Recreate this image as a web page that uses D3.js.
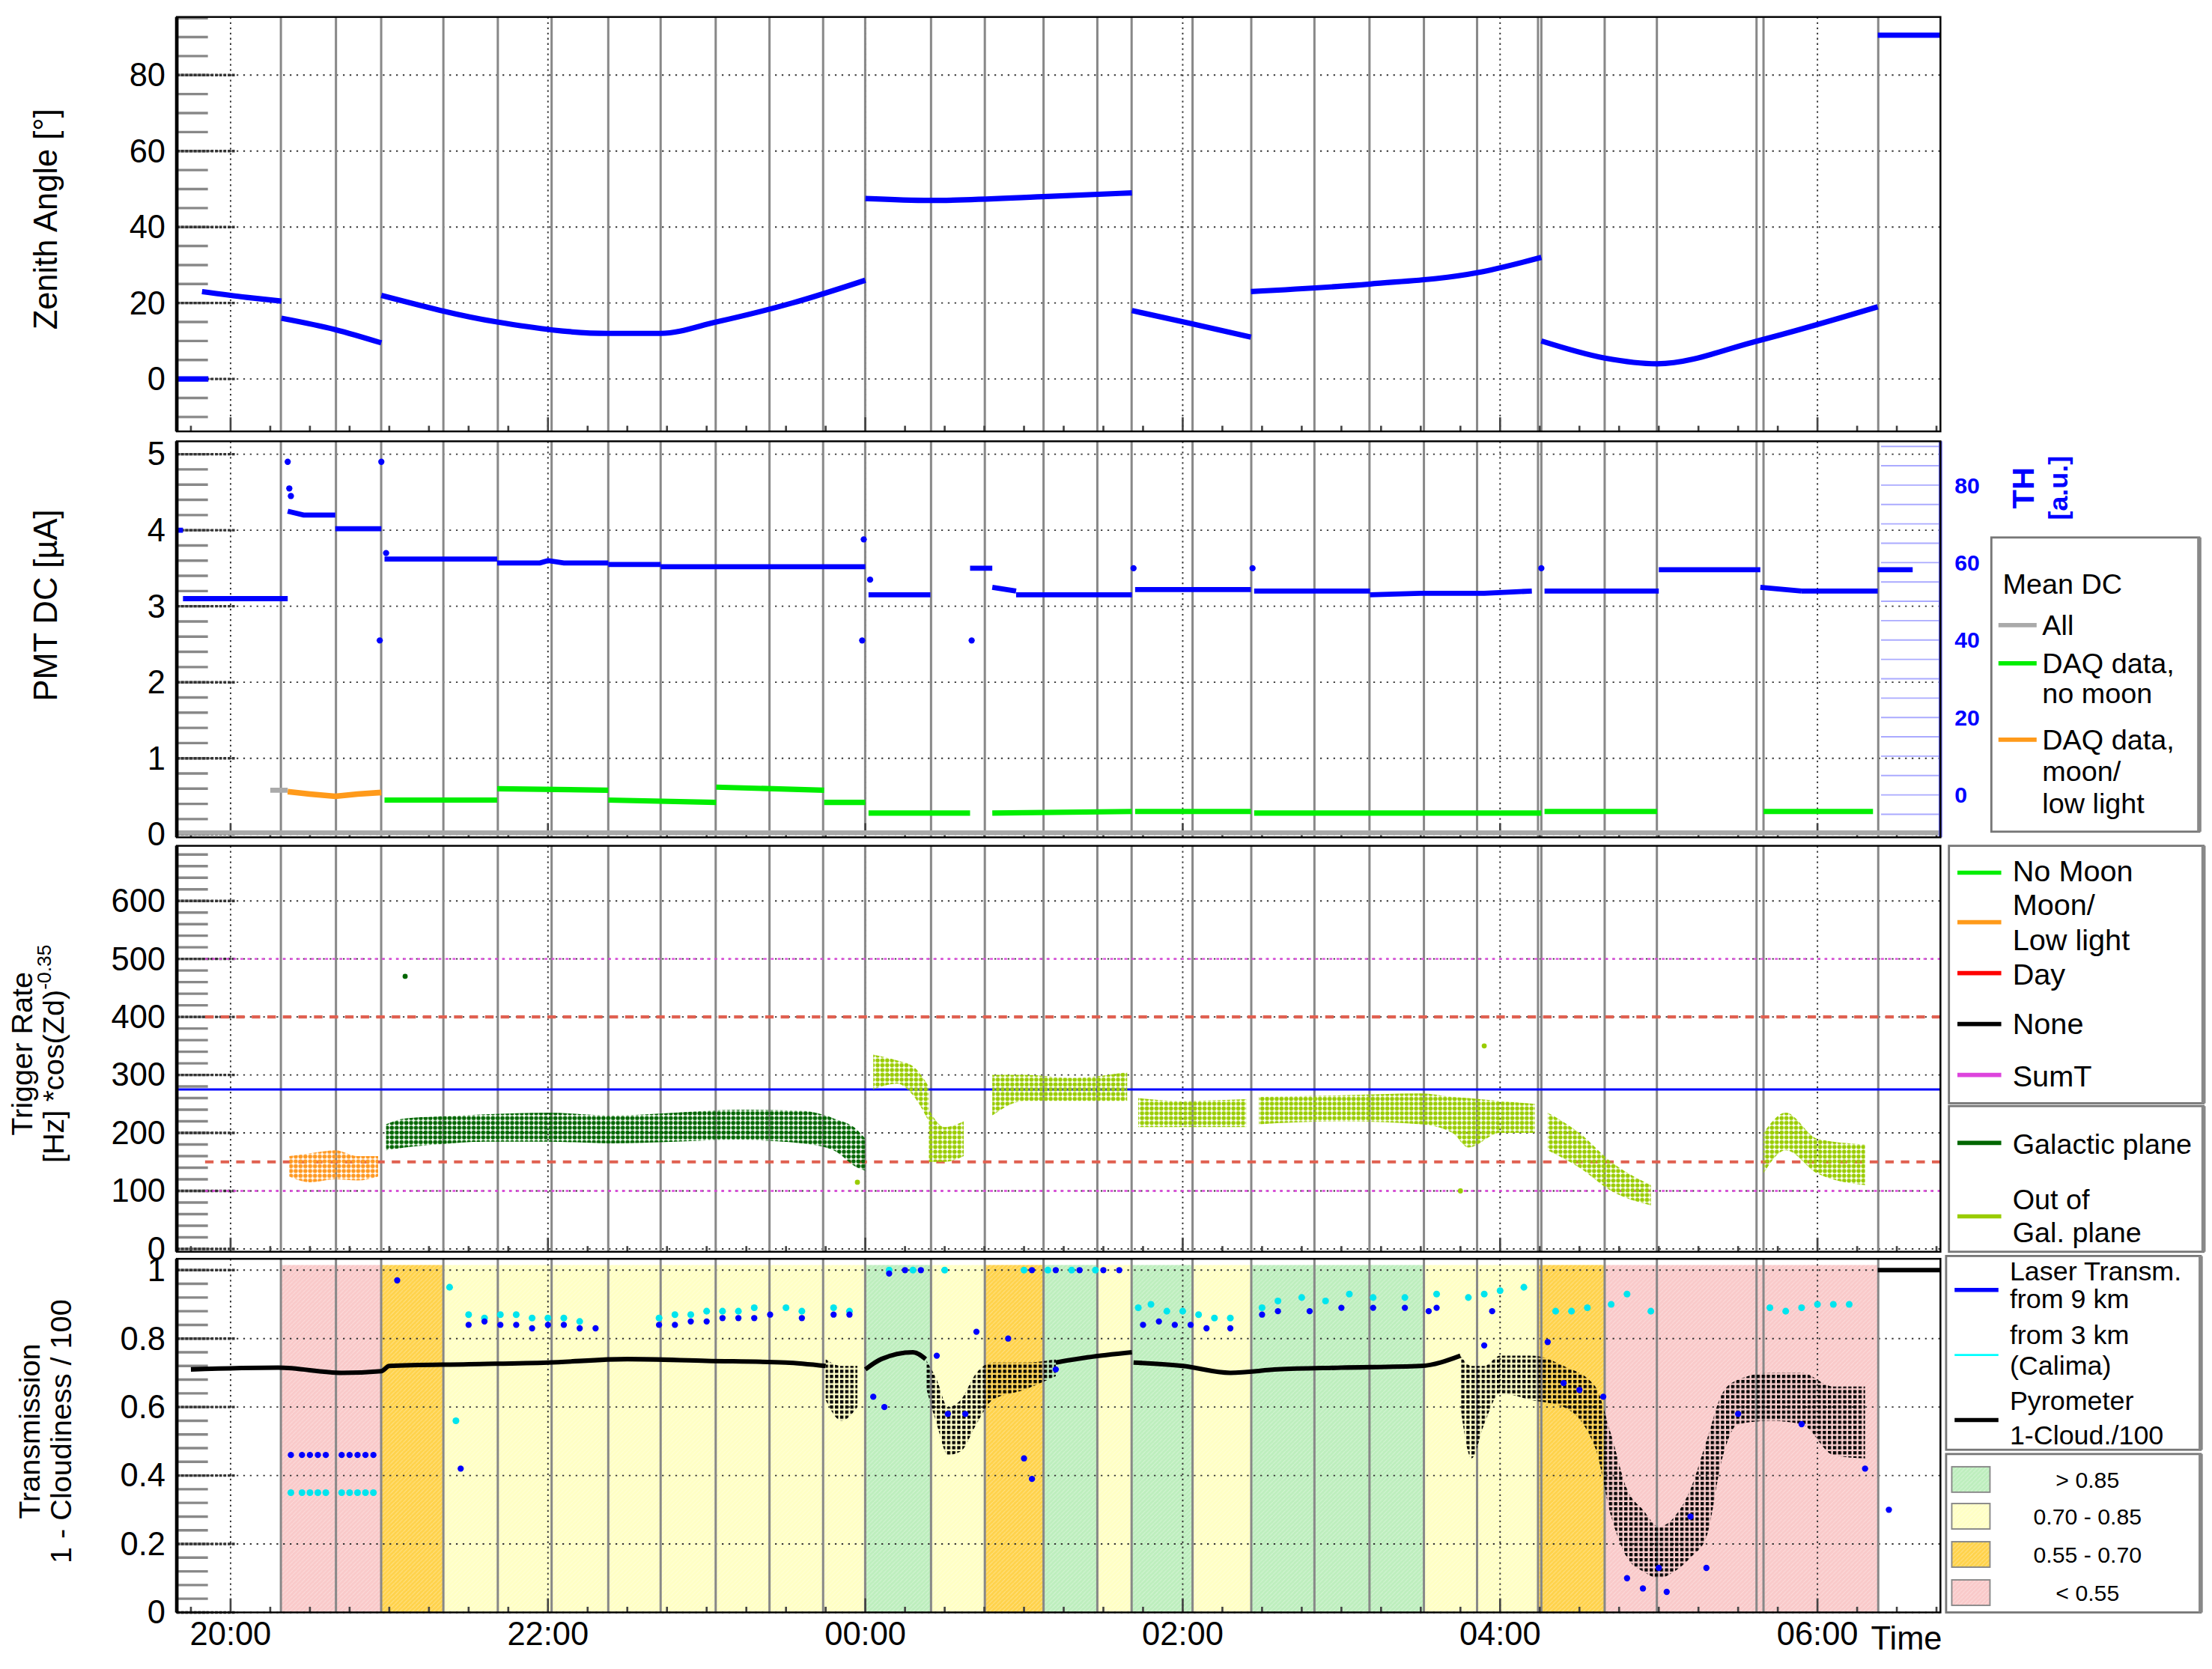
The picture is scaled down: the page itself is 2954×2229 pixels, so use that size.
<!DOCTYPE html>
<html><head><meta charset="utf-8">
<script src="https://cdn.jsdelivr.net/npm/d3@7"></script>
<style>body{margin:0;background:#fff}svg{display:block;font-family:"Liberation Sans",Arial,sans-serif}</style>
</head><body><svg id="c"></svg>
<script>
// ---------- DATA (time in hours after 20:00) ----------
const timeTicks = [0,2,4,6,8,10];
const timeLabels = ["20:00","22:00","00:00","02:00","04:00","06:00"];
const runLines = [0.317,0.664,0.949,1.341,1.684,2.023,2.38,2.71,3.057,3.396,3.734,3.999,4.414,4.753,5.123,5.462,5.678,6.062,6.432,6.83,7.177,7.52,7.855,8.239,8.26,8.659,8.988,9.616,9.66,10.383];
const zenithSegments = [
 [[-0.34,0],[-0.14,0]],
 [[-0.18,23],[0.1,21.5],[0.32,20.5]],
 [[0.32,16],[0.66,13],[0.95,9.5]],
 [[0.95,22],[1.68,15],[2.38,12],[2.71,12],[3.06,15],[3.54,20],[4.0,26]],
 [[4.0,47.5],[4.41,47],[5.12,48],[5.68,49]],
 [[5.68,18],[6.06,14.5],[6.43,11]],
 [[6.43,23],[7.18,25],[7.86,28],[8.26,32]],
 [[8.26,10],[8.66,5.5],[8.99,4],[9.62,10],[10.38,19]],
 [[10.38,90.5],[10.78,90.5]]
];
const pmtSegments = [
 [[-0.34,4.0],[-0.3,4.0]],[[-0.3,3.1],[0.36,3.1]],
 [[0.36,4.25],[0.46,4.2],[0.66,4.2]],[[0.66,4.02],[0.95,4.02]],
 [[0.97,3.62],[1.68,3.62]],[[1.68,3.57],[1.95,3.57],[2.0,3.6],[2.1,3.57],[2.38,3.57]],[[2.38,3.55],[2.71,3.55]],[[2.71,3.52],[4.0,3.52]],
 [[4.02,3.15],[4.41,3.15]],[[4.66,3.5],[4.8,3.5]],[[4.8,3.25],[4.95,3.2]],[[4.95,3.15],[5.68,3.15]],
 [[5.7,3.22],[6.43,3.22]],[[6.45,3.2],[7.18,3.2]],[[7.18,3.15],[7.5,3.17],[7.9,3.17],[8.2,3.2]],
 [[8.28,3.2],[9.0,3.2]],[[9.0,3.48],[9.64,3.48]],[[9.64,3.25],[9.9,3.2]],[[9.9,3.2],[10.38,3.2]],[[10.38,3.48],[10.6,3.48]]
];
const pmtSpikes = [[0.36,4.9],[0.37,4.55],[0.38,4.45],[0.95,4.9],[0.94,2.55],[3.99,3.88],[3.98,2.55],[4.67,2.55],[5.69,3.5],[6.44,3.5],[8.26,3.5],[4.03,3.35],[0.98,3.7]];
const dcAll = [[[-0.34,0.02],[10.78,0.02]],[[0.25,0.58],[0.36,0.58]]];
const dcMoon = [[[0.36,0.56],[0.5,0.53],[0.66,0.5],[0.8,0.53],[0.95,0.55]]];
const dcNoMoon = [
 [[0.97,0.45],[1.68,0.45]],[[1.68,0.6],[2.38,0.58]],[[2.38,0.45],[3.06,0.42]],[[3.06,0.62],[3.74,0.58]],[[3.74,0.42],[4.0,0.42]],
 [[4.02,0.28],[4.66,0.28]],[[4.8,0.28],[5.68,0.3]],[[5.7,0.3],[6.43,0.3]],[[6.45,0.28],[8.26,0.28]],[[8.28,0.3],[8.99,0.3]],[[9.66,0.3],[10.35,0.3]]
];
const thTicks = [0,20,40,60,80];
// trigger-rate point clouds: [hour, low, high]
const trigMoon = [[0.37,125,160],[0.5,115,165],[0.66,120,170],[0.8,118,160],[0.93,125,160]];
const trigGal = [[0.98,170,215],[1.1,175,225],[1.3,180,228],[1.6,185,232],[2.0,185,235],[2.4,182,230],[2.8,185,235],[3.2,188,240],[3.6,182,238],[3.8,170,225],[3.95,140,205],[4.0,135,190]];
const trigOut = [
 [[4.05,275,335],[4.2,285,325],[4.3,265,315],[4.4,220,280]],
 [[4.4,150,240],[4.5,150,210],[4.62,160,220]],
 [[4.8,230,300],[5.0,255,300],[5.3,255,295],[5.65,255,305]],
 [[5.72,210,260],[6.0,210,255],[6.4,210,258]],
 [[6.48,215,262],[7.0,220,265],[7.5,215,268],[7.7,200,262],[7.8,175,260],[8.0,200,255],[8.22,200,250]],
 [[8.3,170,235],[8.5,140,200],[8.7,100,150],[8.95,75,110]],
 [[9.66,130,200],[9.8,170,235],[10.0,130,190],[10.3,110,180]]
];
const trigOutliers = [[1.1,470],[7.9,350],[7.75,100],[3.95,115]];
const thrRates = {blue:275, red:[400,150], magenta:[500,100]};
const qualityBands = [[0.317,0.949,"low"],[0.949,1.341,"mid"],[1.341,3.999,"good"],[3.999,4.414,"best"],[4.414,4.753,"good"],[4.753,5.123,"mid"],[5.123,5.462,"best"],[5.462,5.678,"good"],[5.678,6.062,"best"],[6.062,6.432,"good"],[6.432,7.52,"best"],[7.52,8.239,"good"],[8.239,8.659,"mid"],[8.659,10.383,"low"]];
const pyroLines = [
 [[-0.25,0.71],[0.3,0.715],[0.7,0.70],[0.95,0.705],[1.0,0.72],[1.5,0.725],[2.0,0.73],[2.5,0.74],[3.0,0.735],[3.5,0.73],[3.75,0.72]],
 [[4.0,0.71],[4.1,0.74],[4.3,0.76],[4.38,0.74]],
 [[5.2,0.73],[5.4,0.745],[5.68,0.76]],
 [[5.69,0.73],[6.0,0.72],[6.3,0.70],[6.6,0.71],[7.0,0.715],[7.5,0.72],[7.75,0.75]],
 [[10.38,1.0],[10.78,1.0]]
];
const pyroClouds = [
 [[3.75,0.62,0.74],[3.85,0.56,0.72],[3.95,0.6,0.72]],
 [[4.38,0.66,0.74],[4.45,0.55,0.68],[4.52,0.46,0.6],[4.6,0.47,0.62],[4.7,0.55,0.7],[4.8,0.62,0.73],[5.0,0.65,0.73],[5.2,0.69,0.74]],
 [[7.75,0.6,0.75],[7.82,0.45,0.72],[7.9,0.55,0.72],[8.0,0.64,0.75],[8.2,0.62,0.75],[8.4,0.6,0.72],[8.6,0.48,0.66],[8.7,0.28,0.52],[8.8,0.16,0.36],[8.9,0.12,0.3],[9.0,0.1,0.25],[9.1,0.12,0.28],[9.2,0.16,0.36],[9.3,0.22,0.5],[9.4,0.45,0.64],[9.5,0.55,0.68],[9.7,0.56,0.7],[9.9,0.55,0.7],[10.1,0.46,0.66],[10.3,0.45,0.66]]
];
const laser9 = [[0.38,0.46],[0.45,0.46],[0.5,0.46],[0.55,0.46],[0.6,0.46],[0.7,0.46],[0.75,0.46],[0.8,0.46],[0.85,0.46],[0.9,0.46],
 [1.05,0.97],[1.45,0.42],[1.5,0.84],[1.6,0.85],[1.7,0.84],[1.8,0.84],[1.9,0.83],[2.0,0.84],[2.1,0.84],[2.2,0.83],[2.3,0.83],
 [2.7,0.84],[2.8,0.84],[2.9,0.85],[3.0,0.85],[3.1,0.86],[3.2,0.86],[3.3,0.86],[3.4,0.87],[3.6,0.86],[3.8,0.87],[3.9,0.87],
 [4.05,0.63],[4.12,0.6],[4.15,0.99],[4.25,1.0],[4.35,1.0],[4.45,0.75],[4.52,0.58],[4.63,0.58],[4.7,0.82],[4.9,0.8],[5.0,0.45],[5.05,0.39],[5.2,0.71],[5.05,1.0],[5.2,1.0],[5.35,1.0],[5.5,1.0],[5.6,1.0],
 [5.75,0.84],[5.85,0.85],[5.95,0.84],[6.05,0.84],[6.15,0.83],[6.3,0.83],[6.5,0.87],[6.6,0.88],[6.8,0.88],[7.0,0.89],[7.2,0.89],[7.4,0.89],[7.55,0.88],[7.6,0.89],[7.9,0.78],[7.95,0.88],
 [8.3,0.79],[8.4,0.67],[8.5,0.65],[8.65,0.63],[8.8,0.1],[8.9,0.07],[9.0,0.13],[9.05,0.06],[9.2,0.28],[9.3,0.13],[9.5,0.58],[9.9,0.55],[10.3,0.42],[10.45,0.3]];
const laser3 = [[0.38,0.35],[0.45,0.35],[0.5,0.35],[0.55,0.35],[0.6,0.35],[0.7,0.35],[0.75,0.35],[0.8,0.35],[0.85,0.35],[0.9,0.35],
 [1.38,0.95],[1.42,0.56],[1.5,0.87],[1.6,0.86],[1.7,0.87],[1.8,0.87],[1.9,0.86],[2.0,0.86],[2.1,0.86],[2.2,0.85],
 [2.7,0.86],[2.8,0.87],[2.9,0.87],[3.0,0.88],[3.1,0.88],[3.2,0.88],[3.3,0.89],[3.5,0.89],[3.6,0.88],[3.8,0.89],[3.9,0.88],
 [4.15,1.0],[4.3,1.0],[4.5,1.0],[5.0,1.0],[5.15,1.0],[5.3,1.0],[5.45,1.0],
 [5.72,0.89],[5.8,0.9],[5.9,0.88],[6.0,0.88],[6.1,0.87],[6.2,0.86],[6.3,0.86],[6.5,0.89],[6.6,0.91],[6.75,0.92],[6.9,0.91],[7.05,0.93],[7.2,0.92],[7.4,0.92],[7.6,0.93],[7.8,0.92],[7.9,0.93],[8.0,0.94],[8.15,0.95],
 [8.35,0.88],[8.45,0.88],[8.55,0.89],[8.7,0.9],[8.8,0.93],[8.95,0.88],[9.7,0.89],[9.8,0.88],[9.9,0.89],[10.0,0.9],[10.1,0.9],[10.2,0.9]];

// ---------- SETUP ----------
const W=1564,H=1180;
const svg=d3.select("#c").attr("width",2954).attr("height",2229).attr("viewBox",`0 0 ${W} ${H}`).attr("preserveAspectRatio","none");
const defs=svg.append("defs");
function dotPat(id,col,sp,r,sq){const p=defs.append("pattern").attr("id",id).attr("patternUnits","userSpaceOnUse").attr("width",sp).attr("height",sp);
 if(sq)p.append("rect").attr("x",0).attr("y",0).attr("width",r).attr("height",r).attr("fill",col);
 else p.append("circle").attr("cx",sp/2).attr("cy",sp/2).attr("r",r).attr("fill",col);}
dotPat("pDG","#006600",3.4,1.5);dotPat("pLG","#99cc00",3.4,1.5);dotPat("pOR","#ff9922",3.4,1.5);dotPat("pBK","#000",3.6,2.3,true);
const bandCol={best:"#bdeebd",good:"#ffffc4",mid:"#ffd24a",low:"#f9c9c9"};
Object.entries(bandCol).forEach(([k,c])=>{const p=defs.append("pattern").attr("id","h"+k).attr("patternUnits","userSpaceOnUse").attr("width",3).attr("height",3);
 p.append("rect").attr("width",3).attr("height",3).attr("fill",c);
 p.append("path").attr("d","M0,3L3,0").attr("stroke","#fff").attr("stroke-opacity",0.35).attr("stroke-width",0.6);});

const L=125,R=1372;
const x=d3.scaleLinear().domain([-0.339,10.775]).range([L,R]);
const panels=[
 {top:12,bot:305,y:d3.scaleLinear().domain([-13.8,95.3]).range([305,12]),major:[0,20,40,60,80],minor:5,fmt:d=>d},
 {top:312,bot:592,y:d3.scaleLinear().domain([-0.04,5.17]).range([592,312]),major:[0,1,2,3,4,5],minor:0.2,fmt:d=>d},
 {top:598,bot:885,y:d3.scaleLinear().domain([-4.9,695]).range([885,598]),major:[0,100,200,300,400,500,600],minor:20,fmt:d=>d},
 {top:890,bot:1140,y:d3.scaleLinear().domain([0,1.033]).range([1140,890]),major:[0,0.2,0.4,0.6,0.8,1],minor:0.04,fmt:d=>d===1?"1":d===0?"0":d3.format(".1f")(d)}
];
panels.forEach((p,i)=>{p.g=svg.append("g");const cp="cp"+i;
 defs.append("clipPath").attr("id",cp).append("rect").attr("x",L).attr("y",p.top).attr("width",R-L).attr("height",p.bot-p.top);
 p.clip=`url(#${cp})`;});
const P4=panels[3];
P4.g.append("g").attr("clip-path",P4.clip).selectAll("rect").data(qualityBands).join("rect")
 .attr("x",d=>x(d[0])).attr("width",d=>x(d[1])-x(d[0])).attr("y",P4.y(1.015)).attr("height",P4.y(0)-P4.y(1.015)).attr("fill",d=>`url(#h${d[2]})`);

panels.forEach((p,i)=>{
 const g=p.g;
 g.selectAll(".gh").data(p.major).join("line").attr("x1",L).attr("x2",R).attr("y1",d=>p.y(d)).attr("y2",d=>p.y(d)).attr("stroke","#333").attr("stroke-width",1).attr("stroke-dasharray","1.2,3.5");
 g.selectAll(".gv").data(timeTicks).join("line").attr("x1",d=>x(d)).attr("x2",d=>x(d)).attr("y1",p.top).attr("y2",p.bot).attr("stroke","#333").attr("stroke-width",1).attr("stroke-dasharray","1.2,2.5");
 g.selectAll(".rl").data(runLines).join("line").attr("x1",d=>x(d)).attr("x2",d=>x(d)).attr("y1",p.top).attr("y2",p.bot).attr("stroke","#888").attr("stroke-width",1.6);
 const [a,b]=p.y.domain();const mins=d3.range(Math.ceil(a/p.minor),Math.floor(b/p.minor)+1).map(k=>+(k*p.minor).toFixed(4));
 g.selectAll(".mt").data(mins).join("line").attr("x1",L).attr("x2",L+22).attr("y1",d=>p.y(d)).attr("y2",d=>p.y(d)).attr("stroke","#888").attr("stroke-width",1.8);
 g.selectAll(".Mt").data(p.major).join("line").attr("x1",L).attr("x2",L+42).attr("y1",d=>p.y(d)).attr("y2",d=>p.y(d)).attr("stroke","#333").attr("stroke-width",1.8).attr("stroke-dasharray","2,1");
 const tm=d3.range(-0.25,10.8,0.25);
 g.selectAll(".tt").data(tm).join("line").attr("x1",d=>x(d)).attr("x2",d=>x(d)).attr("y1",p.bot).attr("y2",d=>p.bot-(Math.abs(d%2)<1e-6?10:4)).attr("stroke","#444").attr("stroke-width",1.4);
 const ax=d3.axisLeft(p.y).tickValues(p.major).tickSize(0).tickPadding(8).tickFormat(p.fmt);
 const ag=svg.append("g").attr("transform",`translate(${L},0)`).call(ax);
 ag.select(".domain").remove();ag.selectAll("text").attr("font-size",23).attr("fill","#000").attr("font-family","Liberation Sans, Arial");
});
const p1=panels[0];
const l1=d3.line().x(d=>x(d[0])).y(d=>p1.y(d[1])).curve(d3.curveMonotoneX);
p1.g.append("g").attr("clip-path",p1.clip).selectAll("path").data(zenithSegments).join("path").attr("d",l1).attr("fill","none").attr("stroke","#0000ff").attr("stroke-width",3.8);
const p2=panels[1];
const l2=d3.line().x(d=>x(d[0])).y(d=>p2.y(d[1]));
// right TH axis grid
const th=d3.scaleLinear().domain([0,80]).range([562,343]);
const thMinor=d3.range(-10,92,5);
p2.g.selectAll(".thm").data(thMinor).join("line").attr("x1",R-42).attr("x2",R).attr("y1",d=>th(d)).attr("y2",d=>th(d)).attr("stroke","#aaaaff").attr("stroke-width",1);
const g2=p2.g.append("g").attr("clip-path",p2.clip);
g2.selectAll(".a").data(dcAll).join("path").attr("d",l2).attr("fill","none").attr("stroke","#aaa").attr("stroke-width",3.5);
g2.selectAll(".m").data(dcMoon).join("path").attr("d",l2).attr("fill","none").attr("stroke","#ff9a1a").attr("stroke-width",4);
g2.selectAll(".n").data(dcNoMoon).join("path").attr("d",l2).attr("fill","none").attr("stroke","#00ee00").attr("stroke-width",3.8);
g2.selectAll(".p").data(pmtSegments).join("path").attr("d",l2).attr("fill","none").attr("stroke","#0000ff").attr("stroke-width",3.6);
g2.selectAll(".s").data(pmtSpikes).join("circle").attr("cx",d=>x(d[0])).attr("cy",d=>p2.y(d[1])).attr("r",2.2).attr("fill","#0000ff");
svg.append("line").attr("x1",R).attr("x2",R).attr("y1",312).attr("y2",592).attr("stroke","#6666ee").attr("stroke-width",2.5);
const tha=svg.append("g").attr("transform",`translate(${R},0)`).call(d3.axisRight(th).tickValues(thTicks).tickSize(0).tickPadding(10));
tha.select(".domain").remove();tha.selectAll("text").attr("fill","#0000ff").attr("font-weight","bold").attr("font-size",16);
svg.append("text").attr("transform","translate(1438,345) rotate(-90)").attr("text-anchor","middle").attr("fill","#0000ff").attr("font-weight","bold").attr("font-size",22).text("TH");
svg.append("text").attr("transform","translate(1462,345) rotate(-90)").attr("text-anchor","middle").attr("fill","#0000ff").attr("font-weight","bold").attr("font-size",19).text("[a.u.]");
const p3=panels[2];
const g3=p3.g.append("g").attr("clip-path",p3.clip);
g3.append("line").attr("x1",L).attr("x2",R).attr("y1",p3.y(thrRates.blue)).attr("y2",p3.y(thrRates.blue)).attr("stroke","#0000ff").attr("stroke-width",1.6);
thrRates.red.forEach(v=>g3.append("line").attr("x1",L+20).attr("x2",R).attr("y1",p3.y(v)).attr("y2",p3.y(v)).attr("stroke","#e06050").attr("stroke-width",2.2).attr("stroke-dasharray","6,5"));
thrRates.magenta.forEach(v=>g3.append("line").attr("x1",L+20).attr("x2",R).attr("y1",p3.y(v)).attr("y2",p3.y(v)).attr("stroke","#dd44dd").attr("stroke-width",1.2).attr("stroke-dasharray","2,3"));
const ar3=d3.area().x(d=>x(d[0])).y0(d=>p3.y(d[1])).y1(d=>p3.y(d[2])).curve(d3.curveMonotoneX);
g3.append("path").attr("d",ar3(trigMoon)).attr("fill","url(#pOR)");
g3.append("path").attr("d",ar3(trigGal)).attr("fill","url(#pDG)");
g3.selectAll(".o").data(trigOut).join("path").attr("d",ar3).attr("fill","url(#pLG)");
g3.selectAll(".ol").data(trigOutliers).join("circle").attr("cx",d=>x(d[0])).attr("cy",d=>p3.y(d[1])).attr("r",1.8).attr("fill",(d,i)=>i==0?"#006600":"#99cc00");
const g4=P4.g.append("g").attr("clip-path",P4.clip);
const l4=d3.line().x(d=>x(d[0])).y(d=>P4.y(d[1])).curve(d3.curveMonotoneX);
const ar4=d3.area().x(d=>x(d[0])).y0(d=>P4.y(d[1])).y1(d=>P4.y(d[2])).curve(d3.curveMonotoneX);
g4.selectAll(".pc").data(pyroClouds).join("path").attr("d",ar4).attr("fill","url(#pBK)");
g4.selectAll(".pl").data(pyroLines).join("path").attr("d",l4).attr("fill","none").attr("stroke","#000").attr("stroke-width",3.2);
g4.selectAll(".c3").data(laser3).join("circle").attr("cx",d=>x(d[0])).attr("cy",d=>P4.y(d[1])).attr("r",2.4).attr("fill","#00e5ee");
g4.selectAll(".c9").data(laser9).join("circle").attr("cx",d=>x(d[0])).attr("cy",d=>P4.y(d[1])).attr("r",2.2).attr("fill","#0000ff");
panels.forEach(p=>{svg.append("rect").attr("x",L).attr("y",p.top).attr("width",R-L).attr("height",p.bot-p.top).attr("fill","none").attr("stroke","#000").attr("stroke-width",1.3);
 svg.append("line").attr("x1",L).attr("x2",L).attr("y1",p.top).attr("y2",p.bot).attr("stroke","#000").attr("stroke-width",2.5);});
svg.selectAll(".tl").data(timeTicks).join("text").attr("x",d=>x(d)).attr("y",1163).attr("text-anchor","middle").attr("font-size",23).text((d,i)=>timeLabels[i]);
svg.append("text").attr("x",1348).attr("y",1166).attr("text-anchor","middle").attr("font-size",23).text("Time");
function ytitle(lines,cx,cy,fs){const t=svg.append("text").attr("transform",`translate(${cx},${cy}) rotate(-90)`).attr("text-anchor","middle").attr("font-size",fs);
 lines.forEach((s,i)=>{const ts=t.append("tspan").attr("x",0).attr("dy",i?fs*1.05:0);if(typeof s==="string")ts.text(s);else s(ts);});}
ytitle(["Zenith Angle [°]"],40,155,23);
ytitle(["PMT DC [µA]"],40,428,23);
ytitle(["Trigger Rate",ts=>{ts.text("[Hz] *cos(Zd)");ts.append("tspan").attr("dy",-9).attr("font-size",14).text("-0.35");}],23,745,21);
ytitle(["Transmission","1 - Cloudiness / 100"],28,1012,21);
function box(x0,y0,x1,y1){svg.append("rect").attr("x",x0).attr("y",y0).attr("width",x1-x0).attr("height",y1-y0).attr("fill","#fff").attr("stroke","#777").attr("stroke-width",1.5);
 svg.append("line").attr("x1",x1).attr("x2",x1).attr("y1",y0).attr("y2",y1).attr("stroke","#888").attr("stroke-width",3);}
function entry(lx0,lx1,ly,col,tx,texts,ty,fs,lw){svg.append("line").attr("x1",lx0).attr("x2",lx1).attr("y1",ly).attr("y2",ly).attr("stroke",col).attr("stroke-width",lw||3);
 texts.forEach((s,i)=>svg.append("text").attr("x",tx).attr("y",ty[i]).attr("font-size",fs).text(s));}
box(1408,380,1555,588);
svg.append("text").attr("x",1416).attr("y",420).attr("font-size",20).text("Mean DC");
entry(1413,1440,442,"#aaa",1444,["All"],[449],20);
entry(1413,1440,469,"#00ee00",1444,["DAQ data,","no moon"],[476,497],20);
entry(1413,1440,523,"#ff9a1a",1444,["DAQ data,","moon/","low light"],[530,552,575],20);
box(1378,598,1558,780);
entry(1384,1415,617,"#00ee00",1423,["No Moon"],[623],21);
entry(1384,1415,652,"#ff9a1a",1423,["Moon/","Low light"],[647,672],21);
entry(1384,1415,688,"#ff0000",1423,["Day"],[696],21);
entry(1384,1415,724,"#000",1423,["None"],[731],21);
entry(1384,1415,760,"#dd44dd",1423,["SumT"],[768],21);
box(1378,782,1558,885);
entry(1384,1415,808,"#006600",1423,["Galactic plane"],[816],20);
entry(1384,1415,860,"#99cc00",1423,["Out of","Gal. plane"],[855,878],20);
box(1376,888,1556,1025);
entry(1382,1413,912,"#0000ff",1421,["Laser Transm.","from 9 km"],[905,925],19);
entry(1382,1413,958,"#00ffff",1421,["from 3 km","(Calima)"],[950,972],19,1.5);
entry(1382,1413,1004,"#000",1421,["Pyrometer","1-Cloud./100"],[997,1021],19);
box(1376,1028,1556,1140);
[["best","> 0.85",1046],["good","0.70 - 0.85",1072],["mid","0.55 - 0.70",1099],["low","< 0.55",1126]].forEach(([k,t,yy])=>{
 svg.append("rect").attr("x",1380).attr("y",yy-9).attr("width",27).attr("height",18).attr("fill",`url(#h${k})`).attr("stroke","#888");
 svg.append("text").attr("x",1476).attr("y",yy+6).attr("text-anchor","middle").attr("font-size",16).text(t);});
</script></body></html>
